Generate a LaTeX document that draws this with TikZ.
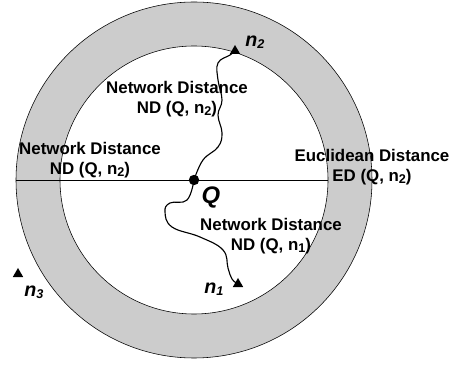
\documentclass[tikz,border=0pt]{standalone}
\usepackage{fontspec}
\setmainfont{Liberation Sans}
\usetikzlibrary{shapes.geometric}
\colorlet{ringgray}{black!20}
\tikzstyle{datapt}=[regular polygon, regular polygon sides=3, fill=black, inner sep=0pt, minimum size=0.3cm]
\tikzstyle{querypt}=[circle, fill=black, inner sep=0pt, minimum size=0.26cm]
\tikzstyle{distlabel}=[align=center, font=\fontsize{12}{14.2}\selectfont\bfseries]
\tikzstyle{ptlabel}=[font=\fontsize{14}{16}\selectfont\bfseries\itshape]
\newcommand{\sub}[1]{\raisebox{-0.2ex}{\fontsize{9}{10}\selectfont #1}}

\begin{document}
\begin{tikzpicture}[x=0.025cm, y=-0.025cm]
	\useasboundingbox (0,0) rectangle (451,365);

	% ring and search region
	\filldraw[fill=ringgray, draw=black] (194,180) circle[radius=178];
	\filldraw[fill=white, draw=black] (194,180) circle[radius=134];

	\coordinate (west) at (16,180);
	\coordinate (east) at (328,180);
	\draw (west) -- (east);

	% query and data points
	\node[querypt] (Q) at (194,180) {};
	\node[datapt] (n2) at (235,51) {};
	\node[datapt] (n1) at (238,284) {};
	\node[datapt] (n3) at (18,274) {};

	% network paths
	\draw[thick] plot[smooth, tension=0.7] coordinates {(Q) (203,160) (218,147) (222,133) (218,115) (222,100) (218,80) (218,63) (230,55) (n2)};
	\draw[thick] plot[smooth, tension=0.7] coordinates {(Q) (187,200) (170,203) (165,212) (172,227) (200,237) (223,250) (228,268) (232,279) (n1)};

	\node[ptlabel] (Qlabel) at (211,197) {\fontsize{17}{19}\selectfont Q};
	\node[ptlabel] (n2label) at (255,42) {n\sub{2}};
	\node[ptlabel] (n1label) at (214,289) {n\sub{1}};
	\node[ptlabel] (n3label) at (34,292) {n\sub{3}};

	\node[distlabel] (ndup) at (177,99) {Network Distance\\ND (Q, n\sub{2})};
	\node[distlabel] (ndleft) at (90,160) {Network Distance\\ND (Q, n\sub{2})};
	\node[distlabel] (edright) at (372,167) {Euclidean Distance\\ED (Q, n\sub{2})};
	\node[distlabel] (nddown) at (271,236) {Network Distance\\ND (Q, n\sub{1})};
\end{tikzpicture}
\end{document}
